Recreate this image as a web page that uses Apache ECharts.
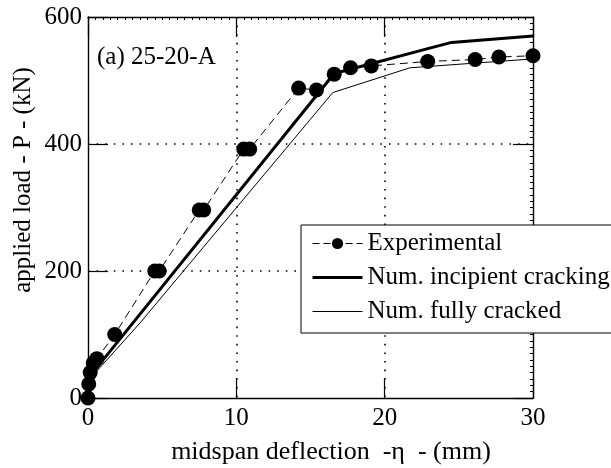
<!DOCTYPE html>
<html>
<head>
<meta charset="utf-8">
<script src="https://cdn.jsdelivr.net/npm/echarts@6/dist/echarts.min.js"></script>
<style>
html,body{margin:0;padding:0;background:#fff;}
#chart{width:611px;height:468px;}
</style>
</head>
<body>
<div id="chart"></div>
<script>
// Data
var expX = [0, 0.05, 0.15, 0.35, 0.6, 1.8, 4.5, 4.8, 7.5, 7.8, 10.5, 10.9, 14.2, 15.4, 16.6, 17.7, 19.1, 22.9, 26.1, 27.7, 30.0];
var expP = [0, 22, 40, 55, 62, 100, 200, 200, 296, 296, 392, 392, 488, 485, 510, 520, 523, 530, 533, 537, 539];
var incX = [0, 0.5, 16.6, 24.5, 30];
var incP = [0, 45, 511, 560, 570];
var fullX = [0, 0.5, 3.5, 16.5, 21.7, 30];
var fullP = [0, 40, 118, 481, 520, 534];
var xTicks = [0, 10, 20, 30];
var yTicks = [0, 200, 400, 600];
var seriesNames = ['Experimental', 'Num. incipient cracking', 'Num. fully cracked'];
var xName = 'midspan deflection  -\u03b7  - (mm)';
var yName = 'applied load - P - (kN)';
var label = '(a) 25-20-A';

function pairs(xs, ys) { return xs.map(function (x, i) { return [x, ys[i]]; }); }

var FONT = '"Liberation Serif", "DejaVu Serif", serif';
var FS = 25;

var chart = echarts.init(document.getElementById('chart'), null, { renderer: 'canvas' });

var tickBase = { show: true, inside: true, length: 20, lineStyle: { color: '#000', width: 1.2 } };
var minorBase = { show: true, splitNumber: 20, length: 3, lineStyle: { color: '#000', width: 1 } };
var dotted = { show: true, lineStyle: { color: '#000', width: 1.6, type: [1.6, 7] }, showMinLine: false, showMaxLine: false };
var axisLineBase = { show: true, onZero: false, lineStyle: { color: '#000', width: 1.4 } };

chart.setOption({
  backgroundColor: '#fff',
  animation: false,
  textStyle: { fontFamily: FONT },
  grid: { left: 88, top: 17, width: 445, height: 381, containLabel: false },
  xAxis: [
    {
      type: 'value', min: 0, max: 30, interval: 10, position: 'bottom',
      axisLine: axisLineBase, axisTick: tickBase, minorTick: { show: false },
      splitLine: dotted,
      axisLabel: { color: '#000', fontSize: FS, fontFamily: FONT, margin: 8,
        formatter: function (v) { return xTicks.indexOf(v) >= 0 ? String(v) : ''; } }
    },
    {
      type: 'value', min: 0, max: 30, interval: 10, position: 'top',
      axisLine: axisLineBase, axisTick: tickBase, minorTick: minorBase,
      splitLine: { show: false }, axisLabel: { show: false }
    }
  ],
  yAxis: [
    {
      type: 'value', min: 0, max: 600, interval: 200, position: 'left',
      axisLine: axisLineBase, axisTick: tickBase, minorTick: { show: false },
      splitLine: dotted,
      axisLabel: { color: '#000', fontSize: FS, fontFamily: FONT, margin: 6,
        formatter: function (v) { return yTicks.indexOf(v) >= 0 ? String(v) : ''; } }
    },
    {
      type: 'value', min: 0, max: 600, interval: 200, position: 'right',
      axisLine: axisLineBase, axisTick: tickBase, minorTick: minorBase,
      splitLine: { show: false }, axisLabel: { show: false }
    }
  ],
  legend: {
    orient: 'vertical', left: 301, top: 225,
    data: [
      { name: seriesNames[0], lineStyle: { width: 1, type: [7, 4] } },
      { name: seriesNames[1], itemStyle: { opacity: 0 }, lineStyle: { width: 3, type: 'solid' } },
      { name: seriesNames[2], itemStyle: { opacity: 0 }, lineStyle: { width: 1, type: 'solid' } }
    ],
    backgroundColor: '#fff', borderColor: '#000', borderWidth: 1,
    padding: [6, 10, 9, 10], itemGap: 9, itemWidth: 50, itemHeight: 14,
    textStyle: { color: '#000', fontSize: FS, fontFamily: FONT }
  },
  graphic: [
    { type: 'text', left: 97, top: 45, style: { text: label, fontSize: FS, fontFamily: FONT, fill: '#000' } },
    { type: 'text', x: 331, y: 452, style: { text: xName, fontSize: 26, fontFamily: FONT, fill: '#000', align: 'center', verticalAlign: 'middle' } },
    { type: 'text', x: 23, y: 180, rotation: Math.PI / 2, style: { text: yName, fontSize: FS, fontFamily: FONT, fill: '#000', align: 'center', verticalAlign: 'middle' } }
  ],
  series: [
    {
      name: seriesNames[2], type: 'line', data: pairs(fullX, fullP), showSymbol: false, symbol: 'none',
      lineStyle: { color: '#000', width: 1 }, itemStyle: { color: '#000' }, z: 3
    },
    {
      name: seriesNames[1], type: 'line', data: pairs(incX, incP), showSymbol: false, symbol: 'none',
      lineStyle: { color: '#000', width: 3 }, itemStyle: { color: '#000' }, z: 3
    },
    {
      name: seriesNames[0], type: 'line', data: pairs(expX, expP), symbol: 'circle', symbolSize: 15,
      lineStyle: { color: '#000', width: 1, type: [8, 5] }, itemStyle: { color: '#000' }, z: 4
    }
  ]
});
</script>
</body>
</html>
